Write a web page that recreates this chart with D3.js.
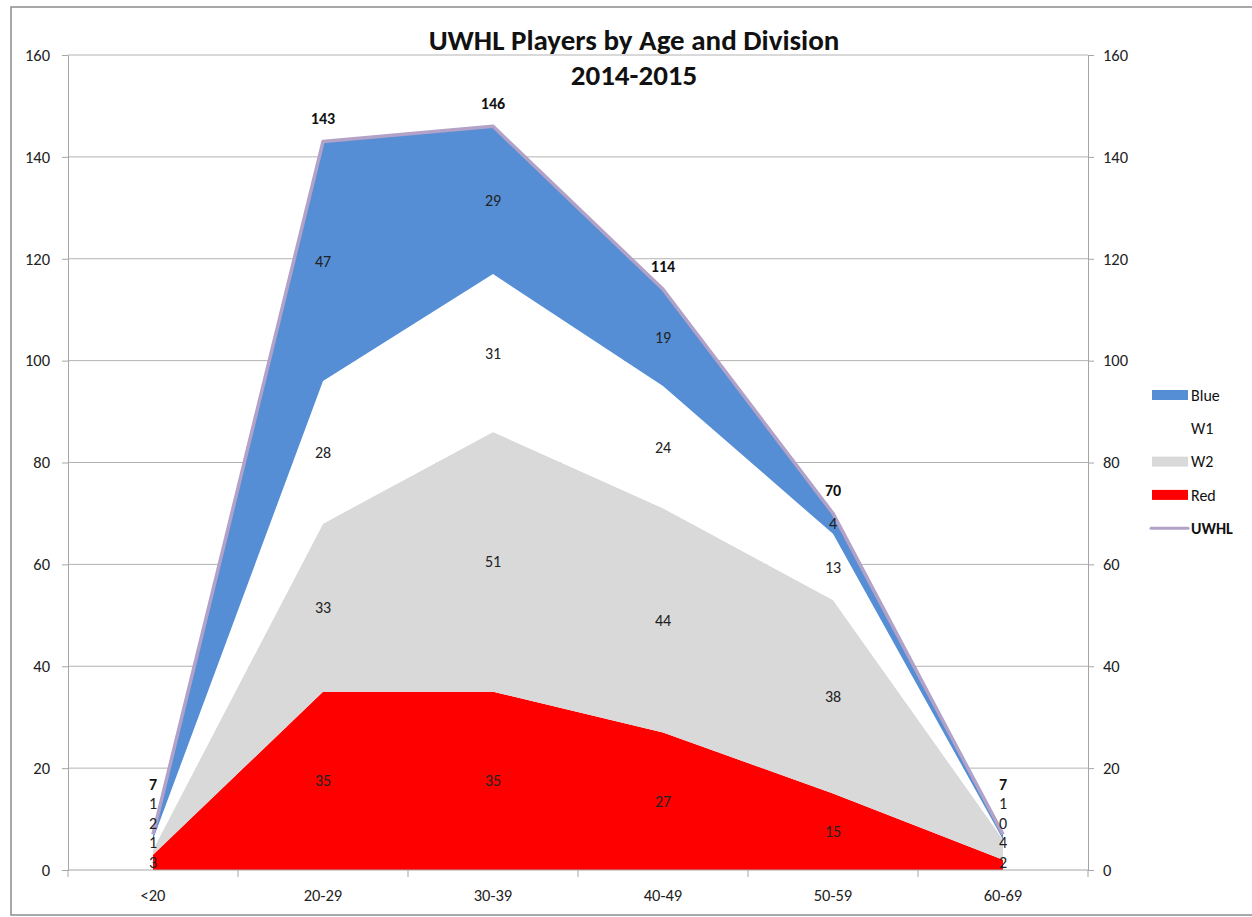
<!DOCTYPE html>
<html>
<head>
<meta charset="utf-8">
<script src="https://cdn.jsdelivr.net/npm/d3@7"></script>
<style>
  body { margin: 0; background: #fff; }
  svg { font-family: Calibri, Carlito, Lato, "Open Sans", sans-serif; }
</style>
</head>
<body>
<svg id="chart" width="1252" height="917"></svg>
<script>
// Age groups and players per division (bottom to top in the stack)
const ageGroups = ["<20", "20-29", "30-39", "40-49", "50-59", "60-69"]
const red = [3, 35, 35, 27, 15, 2]
const w2 = [1, 33, 51, 44, 38, 4]
const w1 = [2, 28, 31, 24, 13, 0]
const blue = [1, 47, 29, 19, 4, 1]
const uwhl = [7, 143, 146, 114, 70, 7]
const yTicks = [0, 20, 40, 60, 80, 100, 120, 140, 160]

const divisions = ["Red", "W2", "W1", "Blue"]
const colors = {Red: "#ff0000", W2: "#d9d9d9", W1: "#ffffff", Blue: "#558ed5"}
const lineColor = "#b3a2c7"

const rows = ageGroups.map(function(a, i) {
    return {age: a, Red: red[i], W2: w2[i], W1: w1[i], Blue: blue[i], total: uwhl[i]}
})

const svg = d3.select("#chart")
const plotLeft = 68, plotRight = 1088, plotTop = 55, plotBottom = 870

var x = d3.scaleBand().domain(ageGroups).range([plotLeft, plotRight])
var y = d3.scaleLinear().domain([0, 160]).range([plotBottom, plotTop])
var cx = function(a) { return x(a) + x.bandwidth() / 2 }

// outer frame
svg.append("rect")
    .attr("x", 11).attr("y", 7).attr("width", 1260).attr("height", 908)
    .attr("fill", "none").attr("stroke", "#8c8c8c").attr("stroke-width", 1.5)

// gridlines
svg.append("g").selectAll("line")
    .data(yTicks.slice(1))
    .enter().append("line")
    .attr("x1", plotLeft).attr("x2", plotRight)
    .attr("y1", function(d) { return y(d) }).attr("y2", function(d) { return y(d) })
    .attr("stroke", "#b3b3b3").attr("stroke-width", 1)

var stack = d3.stack().keys(divisions)
var series = stack(rows)

var area = d3.area()
    .x(function(d) { return cx(d.data.age) })
    .y0(function(d) { return y(d[0]) })
    .y1(function(d) { return y(d[1]) })

svg.append("g").selectAll("path")
    .data(series)
    .enter().append("path")
    .attr("d", area)
    .attr("fill", function(d) { return colors[d.key] })

// total line
var line = d3.line()
    .x(function(d) { return cx(d.age) })
    .y(function(d) { return y(d.total) })
svg.append("path")
    .datum(rows)
    .attr("d", line)
    .attr("fill", "none")
    .attr("stroke", lineColor)
    .attr("stroke-width", 3.5)
    .attr("stroke-linejoin", "round")

// axes
function styleAxis(g) {
    g.attr("font-family", null)
    g.select(".domain").attr("stroke", "#a6a6a6")
    g.selectAll(".tick line").attr("stroke", "#a6a6a6")
    g.selectAll(".tick text").attr("fill", "#222").attr("font-size", 16.5)
}

svg.append("g")
    .attr("transform", "translate(" + plotLeft + ",0)")
    .call(d3.axisLeft(y).tickValues(yTicks).tickSize(6).tickSizeOuter(0).tickPadding(12))
    .call(styleAxis)

svg.append("g")
    .attr("transform", "translate(" + plotRight + ",0)")
    .call(d3.axisRight(y).tickValues(yTicks).tickSize(6).tickSizeOuter(0).tickPadding(9))
    .call(styleAxis)

// category axis: ticks between groups
var xAxis = svg.append("g").attr("transform", "translate(0," + plotBottom + ")")
xAxis.append("line").attr("x1", plotLeft).attr("x2", plotRight).attr("stroke", "#a6a6a6")
xAxis.selectAll(".tk")
    .data(ageGroups.concat(["end"]))
    .enter().append("line")
    .attr("x1", function(d, i) { return plotLeft + i * x.step() })
    .attr("x2", function(d, i) { return plotLeft + i * x.step() })
    .attr("y1", 0).attr("y2", 7)
    .attr("stroke", "#a6a6a6")
xAxis.selectAll("text")
    .data(ageGroups)
    .enter().append("text")
    .attr("x", function(d) { return cx(d) })
    .attr("y", 31)
    .attr("text-anchor", "middle")
    .attr("font-size", 16.5)
    .attr("fill", "#222")
    .text(function(d) { return d })

// data labels, pushed apart when segments are too thin
var labels = svg.append("g").attr("font-size", 16).attr("text-anchor", "middle")
rows.forEach(function(r, i) {
    var prev = plotBottom - 8
    series.forEach(function(s) {
        var mid = y((s[i][0] + s[i][1]) / 2)
        var ly = Math.min(mid, prev)
        prev = ly - 19.5
        labels.append("text")
            .attr("x", cx(r.age))
            .attr("y", ly)
            .attr("dy", "0.35em")
            .attr("fill", "#222")
            .text(s[i].data[s.key])
    })
    var ty = Math.min(y(r.total) - 23, prev)
    labels.append("text")
        .attr("x", cx(r.age))
        .attr("y", ty)
        .attr("dy", "0.35em")
        .attr("font-weight", "bold")
        .attr("fill", "#111")
        .text(r.total)
})

// title
var title = svg.append("g").attr("text-anchor", "middle").attr("font-weight", "bold").attr("font-size", 29).attr("fill", "#111")
title.append("text").attr("x", 634).attr("y", 50).text("UWHL Players by Age and Division")
title.append("text").attr("x", 634).attr("y", 85).text("2014-2015")

// legend
var legendItems = ["Blue", "W1", "W2", "Red", "UWHL"]
var legend = svg.append("g").attr("transform", "translate(1152,395)")
legendItems.forEach(function(k, i) {
    var g = legend.append("g").attr("transform", "translate(0," + (i * 33.3) + ")")
    if (k == "UWHL") {
        g.append("line").attr("x1", -1).attr("x2", 36).attr("y1", 0).attr("y2", 0)
            .attr("stroke", lineColor).attr("stroke-width", 3).attr("stroke-linecap", "round")
    } else {
        g.append("rect").attr("x", 0).attr("y", -5).attr("width", 36).attr("height", 10)
            .attr("fill", colors[k])
    }
    g.append("text").attr("x", 39).attr("y", 0).attr("dy", "0.35em")
        .attr("font-size", 16)
        .attr("font-weight", k == "UWHL" ? "bold" : null)
        .attr("fill", "#111")
        .text(k)
})
</script>
</body>
</html>
